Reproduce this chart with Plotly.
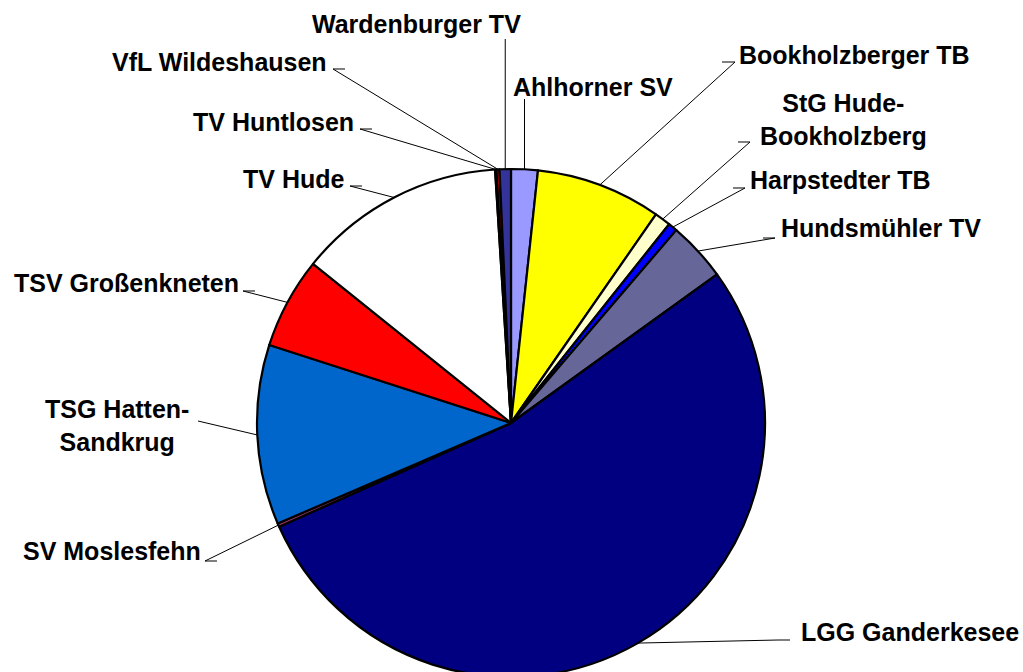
import math
import plotly.graph_objects as go

# ---- data (clockwise from 12 o'clock) ----
clubs = ["Ahlhorner SV", "Bookholzberger TB", "StG Hude-Bookholzberg", "Harpstedter TB",
         "Hundsmühler TV", "LGG Ganderkesee", "SV Moslesfehn", "TSG Hatten-Sandkrug",
         "TSV Großenkneten", "TV Hude", "TV Huntlosen", "VfL Wildeshausen", "Wardenburger TV"]
values = [61, 287, 37, 21, 136, 1917, 8, 412, 209, 476, 3, 7, 26]
colors = ["#9999FF", "#FFFF00", "#FFFFCC", "#0000FF", "#666699", "#000080", "#993366",
          "#0066CC", "#FF0000", "#FFFFFF", "#008080", "#CC0000", "#333399"]
label_texts = ["Ahlhorner SV", "Bookholzberger TB", "StG Hude-<br>Bookholzberg", "Harpstedter TB",
               "Hundsmühler TV", "LGG Ganderkesee", "SV Moslesfehn", "TSG Hatten-<br>Sandkrug",
               "TSV Großenkneten", "TV Hude", "TV Huntlosen", "VfL Wildeshausen", "Wardenburger TV"]

# ---- layout (pixels) ----
W, H = 1023, 680
CX, CY, R = 511, 423, 254
# label centre positions (px) and leader-line start points (px)
label_pos = [(593, 87), (854, 55), (843, 119), (840, 180), (881, 228), (910, 632), (112, 551),
             (117, 425), (126, 283), (293, 179), (273, 122), (219, 62), (416, 24)]
leader_start = [[(526, 99)], [(722, 62), (735, 62)], [(738, 142), (750, 142)],
                [(733, 188), (745, 188)], [(763, 238), (775, 238)],
                [(790, 640), (778, 640)], [(217, 561), (205, 561)], [(198, 421)],
                [(255, 291), (243, 291)], [(362, 186), (350, 186)], [(372, 129), (360, 129)],
                [(345, 69), (333, 69)], [(506, 39)]]


def px(x, y):
    return x / W, 1 - y / H


fig = go.Figure(go.Pie(
    labels=clubs, values=values, sort=False, direction="clockwise", rotation=0,
    marker=dict(colors=colors, line=dict(color="black", width=2.2)),
    textinfo="none", hoverinfo="label+value", showlegend=False,
    domain=dict(x=[(CX - R) / W, (CX + R) / W], y=[1 - (CY + R) / H, 1 - (CY - R) / H]),
))

total = sum(values)
cum = 0
shapes = []
annotations = []
for i, v in enumerate(values):
    mid = (cum + v / 2) / total * 2 * math.pi
    cum += v
    rx = CX + R * math.sin(mid)
    ry = CY - R * math.cos(mid)
    pts = list(leader_start[i])
    if i in (0, 12):
        pts = [(rx, pts[0][1])]
    pts.append((rx, ry))
    path = "M " + " L ".join(f"{px(x, y)[0]:.5f},{px(x, y)[1]:.5f}" for x, y in pts)
    shapes.append(dict(type="path", path=path, xref="paper", yref="paper",
                       line=dict(color="black", width=1)))
    lx, ly = px(*label_pos[i])
    annotations.append(dict(text=label_texts[i], x=lx, y=ly, xref="paper", yref="paper",
                            xanchor="center", yanchor="middle", showarrow=False, align="center",
                            font=dict(family="Liberation Sans, Arial", size=25, color="black",
                                      weight="bold")))

fig.update_layout(width=W, height=H, margin=dict(l=0, r=0, t=0, b=0),
                  paper_bgcolor="white", plot_bgcolor="white",
                  shapes=shapes, annotations=annotations)
fig.write_html("out.html", config={"displayModeBar": False}, post_script=(
    "document.body.style.margin='0';"
    "document.body.style.overflow='hidden';"
    "document.documentElement.style.overflow='hidden';"))
